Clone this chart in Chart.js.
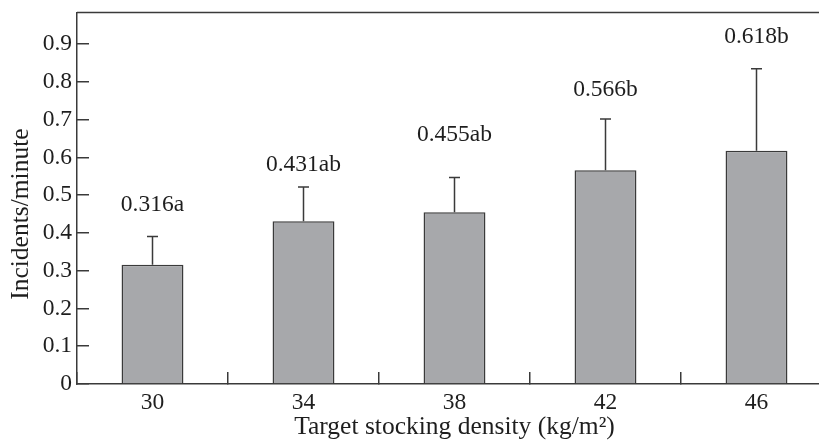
<!DOCTYPE html>
<html>
<head>
<meta charset="utf-8">
<script src="https://cdn.jsdelivr.net/npm/chart.js@4/dist/chart.umd.min.js"></script>
<style>
  html, body { margin: 0; padding: 0; background: #fff; overflow: hidden; }
  #wrap { width: 819px; height: 446px; overflow: hidden; }
  canvas { display: block; }
</style>
</head>
<body>
<div id="wrap"><canvas id="c" width="832" height="446"></canvas></div>
<script>
// Aggression incidents per minute by target stocking density
const densities = ['30', '34', '38', '42', '46'];
const means = [0.316, 0.431, 0.455, 0.566, 0.618];
const stdErrors = [0.075, 0.091, 0.092, 0.136, 0.217];
const groupLetters = ['a', 'ab', 'ab', 'b', 'b'];
const yTicks = [0, 0.1, 0.2, 0.3, 0.4, 0.5, 0.6, 0.7, 0.8, 0.9];
const yTickLabels = ['0', '0.1', '0.2', '0.3', '0.4', '0.5', '0.6', '0.7', '0.8', '0.9'];

const FONT = 'Liberation Serif';
const INK = '#1e1e1e';
const LINE = '#3a3a3a';

// Upper standard-error whiskers with caps, plus mean/letter labels above them
const errorBarPlugin = {
  id: 'errorBars',
  afterDatasetsDraw(chart, args, opts) {
    const { ctx, scales: { y } } = chart;
    const meta = chart.getDatasetMeta(0);
    ctx.save();
    ctx.strokeStyle = LINE;
    ctx.lineWidth = 1.5;
    meta.data.forEach((bar, i) => {
      const top = y.getPixelForValue(means[i] + stdErrors[i]);
      const base = y.getPixelForValue(means[i]);
      ctx.beginPath();
      ctx.moveTo(bar.x, base);
      ctx.lineTo(bar.x, top);
      ctx.moveTo(bar.x - opts.capHalf, top);
      ctx.lineTo(bar.x + opts.capHalf, top);
      ctx.stroke();

      ctx.fillStyle = INK;
      ctx.font = opts.labelSize + 'px "' + FONT + '"';
      ctx.textAlign = 'center';
      ctx.textBaseline = 'alphabetic';
      ctx.fillText(means[i].toFixed(3) + groupLetters[i], bar.x, top - opts.labelGap[i]);
    });
    ctx.restore();
  }
};

// Frame line on top and the y-axis title centred on the labelled tick range
const framePlugin = {
  id: 'frame',
  afterDraw(chart, args, opts) {
    const { ctx, chartArea, scales: { y } } = chart;
    ctx.save();
    ctx.strokeStyle = LINE;
    ctx.lineWidth = 1.5;
    ctx.beginPath();
    ctx.moveTo(chartArea.left, chartArea.top);
    ctx.lineTo(chartArea.right, chartArea.top);
    ctx.stroke();

    const midVal = (yTicks[0] + yTicks[yTicks.length - 1]) / 2;
    const cy = y.getPixelForValue(midVal);
    ctx.translate(opts.titleX, cy);
    ctx.rotate(-Math.PI / 2);
    ctx.fillStyle = INK;
    ctx.font = opts.titleSize + 'px "' + FONT + '"';
    ctx.textAlign = 'center';
    ctx.textBaseline = 'middle';
    ctx.fillText('Incidents/minute', 0, 0);
    ctx.restore();
  }
};

new Chart(document.getElementById('c'), {
  type: 'bar',
  data: {
    labels: densities,
    datasets: [{
      data: means,
      backgroundColor: '#a7a8ab',
      borderColor: LINE,
      borderWidth: 1.5,
      barPercentage: 0.41,
      categoryPercentage: 1.0
    }]
  },
  options: {
    responsive: false,
    animation: false,
    devicePixelRatio: 1,
    layout: { padding: { top: 12.5, left: 0, right: 0, bottom: 0 } },
    plugins: {
      legend: { display: false },
      tooltip: { enabled: false },
      errorBars: { capHalf: 5.5, labelSize: 23.5, labelGap: [25, 15.5, 36, 22.5, 26] },
      frame: { titleX: 21, titleSize: 25.5 }
    },
    scales: {
      x: {
        position: 'bottom',
        afterFit(s) {
          s.height = 62;
          s.paddingLeft = 0;
          s.paddingRight = 0;
        },
        grid: {
          offset: true,
          drawOnChartArea: false,
          drawTicks: true,
          tickLength: -12,
          color: LINE,
          lineWidth: 1.5
        },
        border: { display: true, color: LINE, width: 1.5 },
        ticks: {
          color: INK,
          padding: 17,
          font: { family: FONT, size: 23.5 }
        },
        title: {
          display: true,
          text: 'Target stocking density (kg/m²)',
          color: INK,
          font: { family: FONT, size: 25.5 },
          padding: { top: 0, bottom: 3 }
        }
      },
      y: {
        min: 0,
        max: 0.984,
        afterFit(s) {
          s.width = 77;
          s.paddingTop = 0;
          s.paddingBottom = 0;
        },
        afterBuildTicks(s) { s.ticks = yTicks.map(v => ({ value: v })); },
        grid: {
          drawOnChartArea: false,
          drawTicks: true,
          tickLength: -12,
          color: LINE,
          lineWidth: 1.5
        },
        border: { display: true, color: LINE, width: 1.5 },
        ticks: {
          color: INK,
          padding: 17,
          font: { family: FONT, size: 23.5 },
          callback: (v, i) => yTickLabels[i]
        }
      }
    }
  },
  plugins: [errorBarPlugin, framePlugin]
});
</script>
</body>
</html>
